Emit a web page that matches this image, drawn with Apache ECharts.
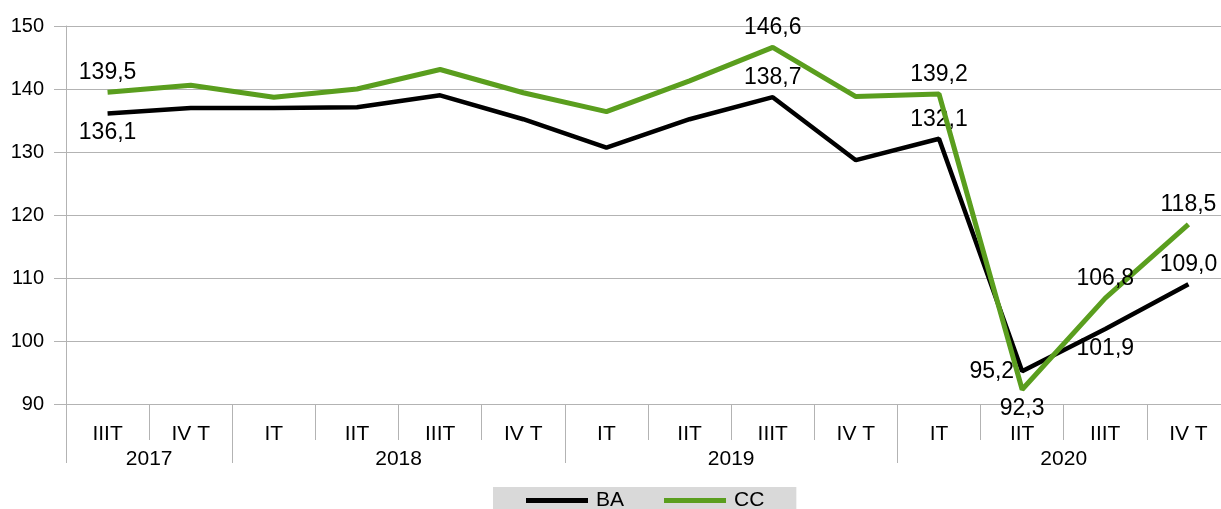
<!DOCTYPE html>
<html>
<head>
<meta charset="utf-8">
<script src="https://cdn.jsdelivr.net/npm/echarts@6/dist/echarts.min.js"></script>
<style>
  html, body { margin: 0; padding: 0; background: #fff; }
  #chart { width: 1221px; height: 509px; }
</style>
</head>
<body>
<div id="chart"></div>
<script>
// Quarterly series, 2017 Q3 .. 2020 Q4
const quarters = ['IIIT', 'IV T', 'IT', 'IIT', 'IIIT', 'IV T', 'IT', 'IIT', 'IIIT', 'IV T', 'IT', 'IIT', 'IIIT', 'IV T'];
const years = ['2017', '2018', '2019', '2020'];
const yearCenters = [1, 4, 8, 12];      // middle of each year's quarter span
const yearBounds = [0, 2, 6, 10];       // first quarter of each year
const baValues = [136.1, 137.0, 137.0, 137.1, 139.0, 135.2, 130.7, 135.2, 138.7, 128.7, 132.1, 95.2, 101.9, 109.0];
const ccValues = [139.5, 140.6, 138.7, 140.0, 143.1, 139.4, 136.4, 141.3, 146.6, 138.8, 139.2, 92.3, 106.8, 118.5];
const yTicks = [90, 100, 110, 120, 130, 140, 150];

// Which points carry a value label, and where it sits
const baLabelPos = { 0: 'bottom', 8: 'top', 10: 'top', 11: 'left', 12: 'bottom', 13: 'top' };
const ccLabelPos = { 0: 'top', 8: 'top', 10: 'top', 11: 'bottom', 12: 'top', 13: 'top' };

const fmt = v => v.toFixed(1).replace('.', ',');
const FONT = '"Liberation Sans", Arial, sans-serif';
const GRID_COLOR = '#b3b3b3';

function withLabels(values, posMap) {
  return values.map((v, i) => posMap[i] === undefined ? v : {
    value: v,
    label: { show: true, position: posMap[i] }
  });
}

const labelStyle = {
  show: false,
  formatter: p => fmt(p.value),
  fontSize: 23,
  fontFamily: FONT,
  color: '#000',
  distance: 8
};

const chart = echarts.init(document.getElementById('chart'), null, { renderer: 'canvas' });
chart.setOption({
  animation: false,
  backgroundColor: '#fff',
  // the last quarter runs past the right edge of the canvas
  grid: { left: 66, top: 26, width: 1164, bottom: 105, containLabel: false, outerBoundsMode: 'none' },
  legend: {
    data: ['BA', 'CC'],
    left: 493,
    top: 487,
    backgroundColor: '#d9d9d9',
    padding: [3, 32, 6, 33],
    itemWidth: 62,
    itemHeight: 5,
    itemGap: 40,
    icon: 'rect',
    textStyle: { fontSize: 21, fontFamily: FONT, color: '#000', padding: [0, 0, 0, 3] }
  },
  xAxis: [
    {
      type: 'category',
      data: quarters,
      position: 'bottom',
      boundaryGap: true,
      axisLine: { show: true, lineStyle: { color: GRID_COLOR, width: 1 } },
      axisTick: { show: true, length: 36, lineStyle: { color: GRID_COLOR } },
      axisLabel: { fontSize: 21, fontFamily: FONT, color: '#000', margin: 20, interval: 0 },
      splitLine: { show: false }
    },
    {
      type: 'value',
      min: 0,
      max: quarters.length,
      position: 'bottom',
      gridIndex: 0,
      axisLine: { show: false },
      axisTick: { show: true, length: 59, customValues: yearBounds, lineStyle: { color: GRID_COLOR } },
      axisLabel: {
        customValues: yearCenters,
        formatter: v => years[yearCenters.indexOf(v)] || '',
        fontSize: 21, fontFamily: FONT, color: '#000', margin: 45
      },
      splitLine: { show: false }
    }
  ],
  yAxis: {
    type: 'value',
    min: yTicks[0],
    max: yTicks[yTicks.length - 1],
    interval: 10,
    axisLine: { show: true, lineStyle: { color: GRID_COLOR, width: 1 } },
    axisTick: { show: true, length: 12, lineStyle: { color: GRID_COLOR } },
    axisLabel: { fontSize: 20, fontFamily: FONT, color: '#000', margin: 22 },
    splitLine: { show: true, lineStyle: { color: GRID_COLOR, width: 1 } }
  },
  series: [
    {
      name: 'BA',
      type: 'line',
      xAxisIndex: 0,
      data: withLabels(baValues, baLabelPos),
      symbol: 'circle',
      symbolSize: 0,
      showSymbol: true,
      lineStyle: { color: '#000', width: 4.5 },
      itemStyle: { color: '#000' },
      label: labelStyle,
      z: 3
    },
    {
      name: 'CC',
      type: 'line',
      xAxisIndex: 0,
      data: withLabels(ccValues, ccLabelPos),
      symbol: 'circle',
      symbolSize: 0,
      showSymbol: true,
      lineStyle: { color: '#5a9e1e', width: 5 },
      itemStyle: { color: '#5a9e1e' },
      label: labelStyle,
      z: 4
    }
  ]
});
</script>
</body>
</html>
